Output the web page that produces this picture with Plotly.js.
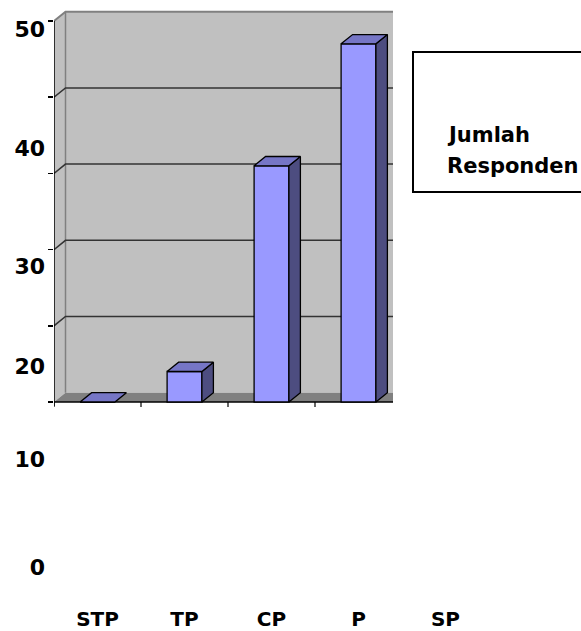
<!DOCTYPE html>
<html>
<head>
<meta charset="utf-8">
<script src="https://cdn.plot.ly/plotly-3.0.1.min.js"></script>
<style>html,body{margin:0;padding:0;background:#fff;}#chart{width:581px;height:631px;}</style>
</head>
<body>
<div id="chart"></div>
<script>
// ---- data ----
const categories = ['STP', 'TP', 'CP', 'P', 'SP'];
const values = [0, 4, 31, 47, null];          // Jumlah Responden (SP bar cut off in source)
const seriesName = 'Jumlah Responden';
const gridValues = [10, 20, 30, 40];
const axisTicks = [0, 10, 20, 30, 40, 50];
const yTickText = ['0', '10', '20', '30', '40', '50'];
const yTickRow = [567, 459, 366, 266, 148, 29]; // rows where the source placed its value labels

// ---- layout constants ----
const W = 581, H = 631, L = 54, B = 26;
const plotH = H - B;
const catPx = 87, unitPx = 7.62, zeroRow = 402;
const xRange = [-0.5, -0.5 + (W - L) / catPx];
const yRange = [(zeroRow - plotH) / unitPx, zeroRow / unitPx];
const dx = 11.5 / catPx, dy = 9.3 / unitPx;
const wl = -0.5, wr = -0.5 + (393 - L) / catPx, yTop = 50;
const barW = 0.4;
const FONT = {family: 'DejaVu Sans', size: 20, color: '#000', weight: 'bold'};

const idx = categories.map((c, i) => i);

// top and side faces of 3D bars (from data values)
const topX = [], topY = [], sideX = [], sideY = [];
values.forEach((v, i) => {
  if (v === null) return;
  const a = i - barW / 2, b = i + barW / 2;
  topX.push(a, a + dx, b + dx, b, a, null);
  topY.push(v, v + dy, v + dy, v, v, null);
  if (v > 0) {
    sideX.push(b, b + dx, b + dx, b, b, null);
    sideY.push(0, dy, v + dy, v, 0, null);
  }
});

const traces = [
  {type: 'bar', x: idx, y: values, width: barW, name: seriesName,
   marker: {color: '#9999FF', line: {color: '#000', width: 1.3}}, showlegend: false},
  {type: 'scatter', mode: 'lines', x: sideX, y: sideY, fill: 'toself', fillcolor: '#4D4D80',
   line: {color: '#000', width: 1.3}, showlegend: false, hoverinfo: 'skip'},
  {type: 'scatter', mode: 'lines', x: topX, y: topY, fill: 'toself', fillcolor: '#7676C6',
   line: {color: '#000', width: 1.3}, showlegend: false, hoverinfo: 'skip'},
  {type: 'scatter', x: [null], y: [null], yaxis: 'y2', showlegend: false, hoverinfo: 'skip'}
];

const shapes = [];
// side wall
shapes.push({type: 'path', layer: 'below', xref: 'x', yref: 'y',
  path: `M${wl},0 L${wl},${yTop} L${wl + dx},${yTop + dy} L${wl + dx},${dy} Z`,
  fillcolor: '#C0C0C0', line: {width: 0}});
// back wall
shapes.push({type: 'rect', layer: 'below', xref: 'x', yref: 'y',
  x0: wl + dx, x1: wr, y0: dy, y1: yTop + dy, fillcolor: '#C0C0C0', line: {width: 0}});
// floor
shapes.push({type: 'path', layer: 'below', xref: 'x', yref: 'y',
  path: `M${wl},0 L${wl + dx},${dy} L${wr},${dy} L${wr},0 Z`,
  fillcolor: '#808080', line: {width: 0}});
// wall edges
shapes.push({type: 'line', layer: 'below', xref: 'x', yref: 'y',
  x0: wl + dx, x1: wl + dx, y0: dy, y1: yTop + dy, line: {color: '#808080', width: 1.5}});
shapes.push({type: 'path', layer: 'below', xref: 'x', yref: 'y',
  path: `M${wl},${yTop} L${wl + dx},${yTop + dy} L${wr},${yTop + dy}`,
  line: {color: '#808080', width: 2}});
// gridlines
gridValues.forEach(v => {
  shapes.push({type: 'path', layer: 'below', xref: 'x', yref: 'y',
    path: `M${wl},${v} L${wl + dx},${v + dy} L${wr},${v + dy}`,
    line: {color: '#333333', width: 1.5}});
});
// axis lines
shapes.push({type: 'line', layer: 'below', xref: 'x', yref: 'y',
  x0: wl, x1: wl, y0: -4 / unitPx, y1: yTop, line: {color: '#000', width: 1.5}});
shapes.push({type: 'line', layer: 'below', xref: 'x', yref: 'y',
  x0: wl, x1: wr, y0: 0, y1: 0, line: {color: '#000', width: 1.5}});
// category boundary ticks
for (let k = 0; k <= categories.length; k++) {
  const xb = k - 0.5;
  if (xb > wr) break;
  shapes.push({type: 'line', layer: 'below', xref: 'x', yref: 'y',
    x0: xb, x1: xb, y0: 0, y1: -5 / unitPx, line: {color: '#000', width: 1.2}});
}
// legend box
shapes.push({type: 'rect', xref: 'paper', yref: 'paper',
  x0: (413 - L) / (W - L), x1: 1.05, y0: 1 - 192 / plotH, y1: 1 - 52 / plotH,
  fillcolor: 'rgba(0,0,0,0)', line: {color: '#000', width: 2}});

const legendWords = seriesName.split(' ');
const annotations = [
  {xref: 'paper', yref: 'paper', x: (445 - L) / (W - L), y: 1 - 135 / plotH,
   xanchor: 'left', yanchor: 'middle', showarrow: false, text: legendWords[0],
   font: Object.assign({}, FONT, {size: 21})},
  {xref: 'paper', yref: 'paper', x: (445 - L) / (W - L), y: 1 - 166 / plotH,
   xanchor: 'left', yanchor: 'middle', showarrow: false, text: legendWords[1],
   font: Object.assign({}, FONT, {size: 21})}
];

const layout = {
  width: W, height: H,
  margin: {l: L, r: 0, t: 0, b: B, pad: 0},
  paper_bgcolor: '#fff', plot_bgcolor: '#fff',
  showlegend: false, hovermode: false,
  xaxis: {range: xRange, showgrid: false, zeroline: false, showline: false,
    tickmode: 'array', tickvals: idx, ticktext: categories, ticks: '',
    tickfont: FONT},
  yaxis: {range: yRange, showgrid: false, zeroline: false, showline: false,
    tickmode: 'array', tickvals: axisTicks, ticks: 'outside', ticklen: 5,
    tickcolor: '#000', tickwidth: 1.5, showticklabels: false},
  yaxis2: {overlaying: 'y', side: 'left', range: [plotH, 0], showgrid: false,
    zeroline: false, showline: false, tickmode: 'array', tickvals: yTickRow,
    ticktext: yTickText, ticks: '', ticklabelstandoff: 8, tickfont: Object.assign({}, FONT, {size: 22})},
  shapes: shapes,
  annotations: annotations
};

Plotly.newPlot('chart', traces, layout, {staticPlot: true, displayModeBar: false});
</script>
</body>
</html>
